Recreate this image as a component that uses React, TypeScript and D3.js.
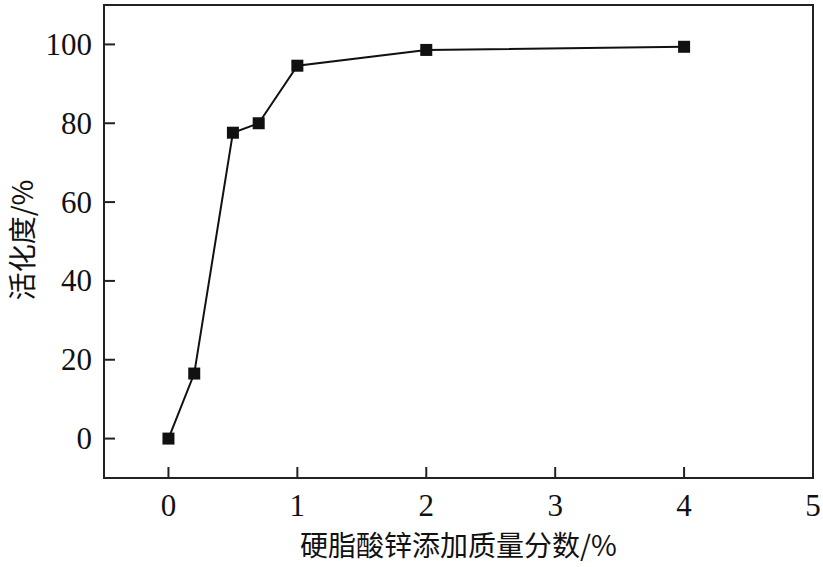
import React from "react";
import * as d3 from "d3";

const xValues = [0, 0.2, 0.5, 0.7, 1, 2, 4];
const yValues = [0, 16.5, 77.6, 80, 94.6, 98.6, 99.4];
const xTicks = [0, 1, 2, 3, 4, 5];
const yTicks = [0, 20, 40, 60, 80, 100];
const xLabel = "硬脂酸锌添加质量分数/%";
const yLabel = "活化度/%";

export default function App() {
  const W = 823, H = 567;
  const left = 104, right = 813, top = 5, bottom = 478;
  const x = d3.scaleLinear().domain([-0.5, 5]).range([left, right]);
  const y = d3.scaleLinear().domain([-10, 110]).range([bottom, top]);
  const pts = xValues.map((v, i) => [x(v), y(yValues[i])] as [number, number]);
  const line = d3.line()(pts) || "";
  const numFont = "Liberation Serif";
  const cjkFont = "Noto Sans CJK SC";
  const tickLen = 11;
  return (
    <svg width={W} height={H} style={{ position: "absolute", left: 0, top: 0, background: "#fff" }}>
      <rect x={left} y={top} width={right - left} height={bottom - top} fill="none" stroke="#222" strokeWidth={2} />
      {xTicks.map((t) => (
        <g key={"x" + t}>
          <line x1={x(t)} x2={x(t)} y1={bottom} y2={bottom - tickLen} stroke="#222" strokeWidth={2} />
          <text x={x(t)} y={bottom + 38} textAnchor="middle" fontFamily={numFont} fontSize={31} fill="#111">{t}</text>
        </g>
      ))}
      {yTicks.map((t) => (
        <g key={"y" + t}>
          <line x1={left} x2={left + tickLen} y1={y(t)} y2={y(t)} stroke="#222" strokeWidth={2} />
          <text x={left - 12} y={y(t)} dy="0.34em" textAnchor="end" fontFamily={numFont} fontSize={31} fill="#111">{t}</text>
        </g>
      ))}
      <path d={line} fill="none" stroke="#111" strokeWidth={2} />
      {pts.map(([px, py], i) => (
        <rect key={i} x={px - 6} y={py - 6} width={12} height={12} fill="#111" />
      ))}
      <text x={(left + right) / 2} y={556} textAnchor="middle" fontFamily={cjkFont} fontSize={28} fill="#111">{xLabel}</text>
      <text transform={`translate(33, 240) rotate(-90)`} textAnchor="middle" fontFamily={cjkFont} fontSize={28} fill="#111">{yLabel}</text>
    </svg>
  );
}
